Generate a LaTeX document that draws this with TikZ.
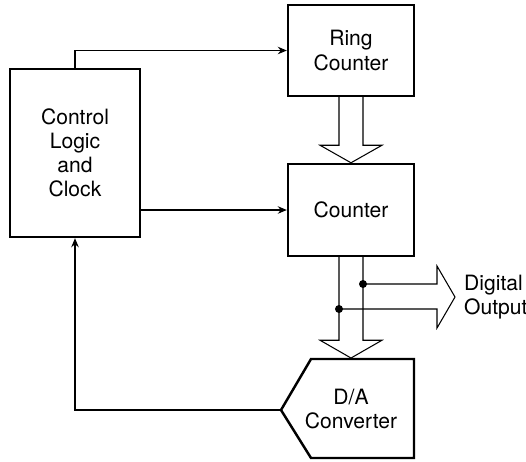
\documentclass[tikz,border=0pt]{standalone}
\usepackage{fontspec}
\setmainfont{TeX Gyre Heros}
\usetikzlibrary{arrows.meta,calc}
\tikzset{blockbox/.style={draw,line width=1.4pt,align=center,inner sep=0pt},
  sigarrow/.style={-{Stealth[length=1.8mm,width=1.5mm]},line width=.6pt},
  busarrow/.style={line width=.6pt,line join=miter},
  tapdot/.style={fill,circle,inner sep=0pt,minimum size=1.6mm}}

\begin{document}
\begin{tikzpicture}[x=0.02cm,y=-0.02cm,font=\fontsize{12}{13.7}\selectfont]
\path[use as bounding box] (0,0) rectangle (526,461);
% blocks
\node[blockbox,minimum width=2.6cm,minimum height=3.36cm] (ctrl) at (75,153) {Control\\Logic\\and\\Clock};
\node[blockbox,minimum width=2.52cm,minimum height=1.82cm] (ring) at (351,50.5) {Ring\\Counter};
\node[blockbox,minimum width=2.52cm,minimum height=1.84cm] (cnt) at (351,210) {Counter};
\draw[line width=1.4pt,line join=miter] (281,410) coordinate (datip) -- (311,359) -- (414,359) -- (414,458) -- (311,458) -- cycle;
\node[align=center] (dac) at (351,409) {D/A\\Converter};
\node[align=left,anchor=west] (dout) at (458,297) {Digital\\Output};
% control lines
\draw[sigarrow] (ctrl.north) |- (ring.west);
\draw[sigarrow] (ctrl.east |- cnt.west) -- (cnt.west);
\draw[sigarrow] (datip) -| (ctrl.south);
% buses
\draw[busarrow] ($(ring.south)+(-12,0)$) -- ++(0,48) -- ++(-19,0) -- ($(cnt.north)$) -- ($(ring.south)+(31,48)$) -- ++(-19,0) -- ($(ring.south)+(12,0)$);
\draw[busarrow] ($(cnt.south)+(-12,0)$) -- ++(0,83) -- ++(-19,0) -- (351,358) -- ($(cnt.south)+(31,83)$) -- ++(-19,0) -- ($(cnt.south)+(12,0)$);
\node[tapdot] (tapa) at (363,284) {};
\node[tapdot] (tapb) at (339,309) {};
\draw[busarrow] (tapa.center) -- (437,284) -- (437,266) -- (455,297) -- (437,328) -- (437,309) -- (tapb.center);
\end{tikzpicture}
\end{document}
